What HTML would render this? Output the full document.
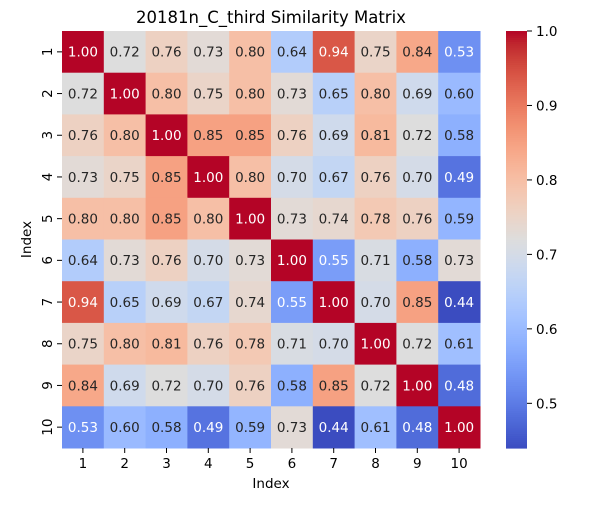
<!DOCTYPE html>
<html><head><meta charset="utf-8"><style>
body{margin:0;background:#fff;}
svg text{font-family:"DejaVu Sans","Liberation Sans",sans-serif;}
</style></head><body>
<svg id="chart" width="600" height="500" xmlns="http://www.w3.org/2000/svg">
<text x="271" y="23" font-size="16.5" text-anchor="middle">20181n_C_third Similarity Matrix</text>
<g id="cells"></g><g id="axes"></g><g id="cbar"></g>
</svg>
<script>
const labels=["1","2","3","4","5","6","7","8","9","10"];
const matrix=[
[1.00,0.72,0.76,0.73,0.80,0.64,0.94,0.75,0.84,0.53],
[0.72,1.00,0.80,0.75,0.80,0.73,0.65,0.80,0.69,0.60],
[0.76,0.80,1.00,0.85,0.85,0.76,0.69,0.81,0.72,0.58],
[0.73,0.75,0.85,1.00,0.80,0.70,0.67,0.76,0.70,0.49],
[0.80,0.80,0.85,0.80,1.00,0.73,0.74,0.78,0.76,0.59],
[0.64,0.73,0.76,0.70,0.73,1.00,0.55,0.71,0.58,0.73],
[0.94,0.65,0.69,0.67,0.74,0.55,1.00,0.70,0.85,0.44],
[0.75,0.80,0.81,0.76,0.78,0.71,0.70,1.00,0.72,0.61],
[0.84,0.69,0.72,0.70,0.76,0.58,0.85,0.72,1.00,0.48],
[0.53,0.60,0.58,0.49,0.59,0.73,0.44,0.61,0.48,1.00]];
const cbTicks=[0.5,0.6,0.7,0.8,0.9,1.0];
const vmin=0.44,vmax=1.0;
const NS="http://www.w3.org/2000/svg";
const L=62,T=31,W=418,H=417,n=labels.length,cw=W/n,ch=H/n;
const stops=[[59,76,192],[68,90,204],[77,104,215],[87,117,225],[98,130,234],[108,142,241],[119,154,247],[130,165,251],[141,176,254],[152,185,255],[163,194,255],[174,201,253],[184,208,249],[194,213,244],[204,217,238],[213,219,230],[221,221,221],[229,216,209],[236,211,197],[241,204,185],[245,196,173],[247,187,160],[247,177,148],[247,166,135],[244,154,123],[241,141,111],[236,127,99],[229,112,88],[222,96,77],[213,80,66],[203,62,56],[192,40,47],[180,4,38]];
function cmap(v){let t=Math.max(0,Math.min(1,(v-vmin)/(vmax-vmin)))*(stops.length-1);let i=Math.min(Math.floor(t),stops.length-2),f=t-i;return stops[i].map((c,k)=>Math.round(c+(stops[i+1][k]-c)*f));}
function lum(c){const l=c.map(x=>{x/=255;return x<=0.03928?x/12.92:Math.pow((x+0.055)/1.055,2.4)});return 0.2126*l[0]+0.7152*l[1]+0.0722*l[2];}
function xs(j){return L+j*cw;} function ys(i){return T+i*ch;}
function mk(tag,attrs,parent){const e=document.createElementNS(NS,tag);for(const k in attrs)e.setAttribute(k,attrs[k]);parent.appendChild(e);return e;}
const cells=document.getElementById('cells'),axes=document.getElementById('axes'),cb=document.getElementById('cbar');
matrix.forEach((row,i)=>row.forEach((v,j)=>{
 const c=cmap(v);
 const r=mk('rect',{x:xs(j),y:ys(i),width:cw+0.5,height:ch+0.5,fill:`rgb(${c})`},cells);
 
 
 const t=mk('text',{x:xs(j)+cw/2,y:ys(i)+ch/2+4.8,'font-size':13.5,'text-anchor':'middle',fill:lum(c)>0.408?'#262626':'#fff'},cells);
 t.textContent=v.toFixed(2);
 
 
}));
labels.forEach((lab,k)=>{
 mk('line',{x1:xs(k)+cw/2,x2:xs(k)+cw/2,y1:T+H,y2:T+H+5,stroke:'#000'},axes);
 const tx=mk('text',{x:xs(k)+cw/2,y:T+H+20,'font-size':13.5,'text-anchor':'middle'},axes);tx.textContent=lab;
 
 
 const yy=ys(k)+ch/2;
 mk('line',{x1:L-5,x2:L,y1:yy,y2:yy,stroke:'#000'},axes);
 const ty=mk('text',{x:L-10,y:yy,'font-size':13.5,'text-anchor':'middle',transform:`rotate(-90 ${L-10} ${yy})`},axes);ty.textContent=lab;
 
 
});
const xl=mk('text',{x:L+W/2,y:488,'font-size':13.5,'text-anchor':'middle'},axes);xl.textContent='Index';


const yl=mk('text',{x:31,y:T+H/2,'font-size':13.5,'text-anchor':'middle',transform:`rotate(-90 31 ${T+H/2})`},axes);yl.textContent='Index';


const CX=506,CW=21;
function cy(v){return T+H-(v-vmin)/(vmax-vmin)*H;}
for(let k=0;k<200;k++){const v=vmin+(vmax-vmin)*k/200;const c=cmap(v+(vmax-vmin)/400);
 const r=mk('rect',{x:CX,y:cy(v+(vmax-vmin)/200),width:CW,height:H/200+0.6,fill:`rgb(${c})`},cb);
 
 }
cbTicks.forEach(v=>{mk('line',{x1:CX+CW,x2:CX+CW+5,y1:cy(v),y2:cy(v),stroke:'#000'},cb);
 const t=mk('text',{x:CX+CW+9,y:cy(v)+5,'font-size':13.5},cb);t.textContent=v.toFixed(1);
 
 });
</script>
</body></html>
